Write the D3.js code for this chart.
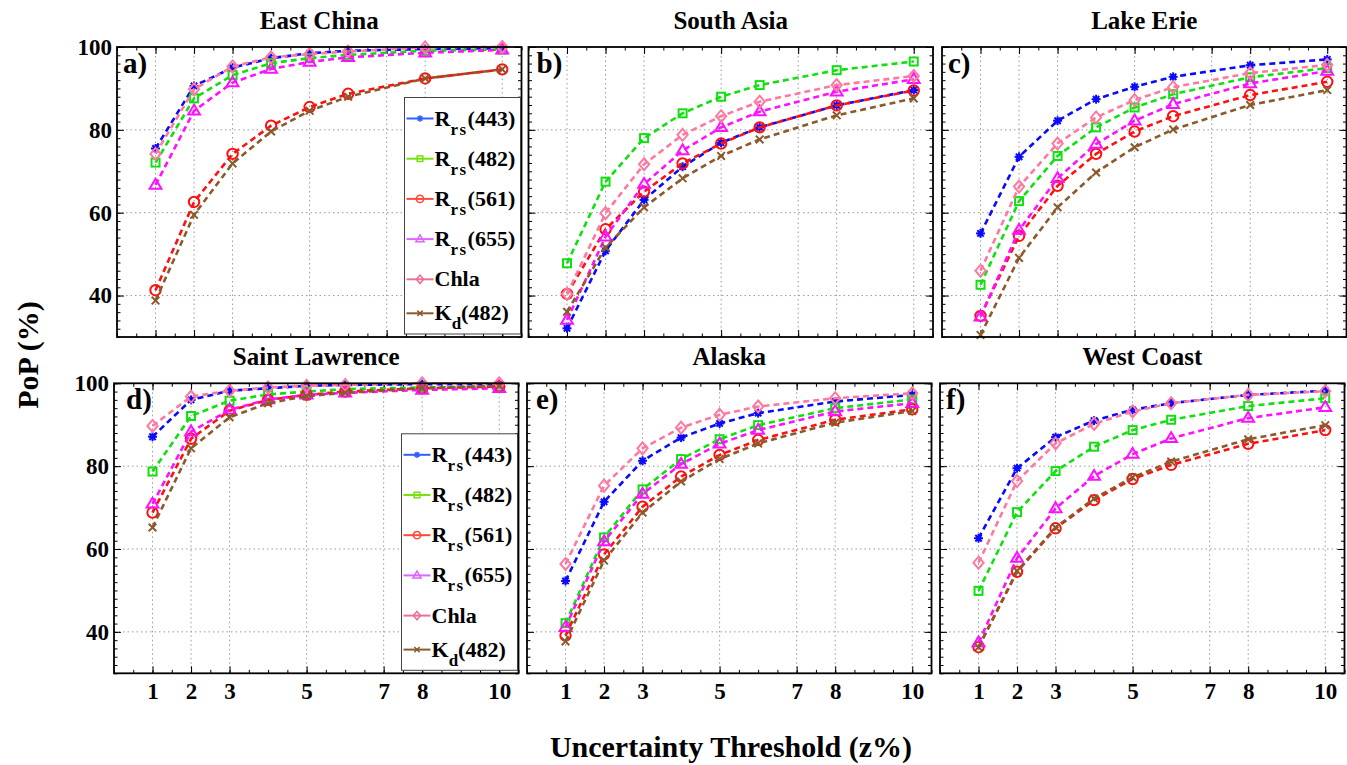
<!DOCTYPE html>
<html>
<head>
<meta charset="utf-8">
<script src="https://cdn.jsdelivr.net/npm/d3@7"></script>
<style>
  html, body { margin: 0; padding: 0; background: #fff; }
  svg { display: block; }
  svg text { font-family: "Liberation Serif", "Times New Roman", Times, "DejaVu Serif", serif !important; font-weight: bold; }
</style>
</head>
<body>
<svg id="chart" width="1347" height="765"></svg>
<script>
// ---------------- DATA ----------------
const thresholds = [1, 2, 3, 4, 5, 6, 8, 10];
const xTickValues = [1, 2, 3, 5, 7, 8, 10];
const yTickValues = [40, 60, 80, 100];
const regions = ["East China", "South Asia", "Lake Erie", "Saint Lawrence", "Alaska", "West Coast"];
const panelLabels = ["a)", "b)", "c)", "d)", "e)", "f)"];
const seriesMain = ["R", "R", "R", "R", "Chla", "K"];
const seriesSub = ["rs", "rs", "rs", "rs", "", "d"];
const seriesTail = ["(443)", "(482)", "(561)", "(655)", "", "(482)"];

// rows: Rrs(443), Rrs(482), Rrs(561), Rrs(655), Chla, Kd(482)
const eastChina = [
  [75.5, 90.6, 95.0, 97.3, 98.5, 99.1, 99.5, 99.7],
  [72.1, 87.6, 93.2, 96.1, 97.3, 98.1, 99.1, 99.4],
  [41.3, 62.6, 74.2, 81.0, 85.5, 88.7, 92.4, 94.6],
  [66.7, 84.6, 91.4, 94.7, 96.4, 97.5, 98.6, 99.3],
  [74.2, 89.8, 95.3, 97.5, 98.3, 98.9, 99.9, 100.0],
  [38.8, 59.5, 71.9, 79.6, 84.6, 88.0, 92.4, 94.6]
];
const southAsia = [
  [32.1, 50.8, 63.1, 71.1, 76.9, 80.6, 85.9, 89.6],
  [47.8, 67.5, 78.0, 84.0, 88.0, 90.8, 94.4, 96.5],
  [40.4, 56.0, 65.1, 71.9, 76.7, 80.6, 85.9, 89.5],
  [34.1, 54.2, 66.9, 75.0, 80.6, 84.4, 89.2, 92.2],
  [40.4, 59.9, 71.7, 78.8, 83.3, 86.8, 90.8, 93.0],
  [36.1, 51.6, 61.3, 68.3, 73.7, 77.7, 83.5, 87.6]
];
const lakeErie = [
  [55.0, 73.5, 82.2, 87.4, 90.4, 92.8, 95.6, 97.0],
  [42.6, 62.8, 73.7, 80.6, 85.4, 88.6, 92.7, 94.9],
  [35.1, 54.4, 66.5, 74.2, 79.6, 83.3, 88.4, 91.6],
  [34.9, 55.8, 68.3, 76.6, 82.2, 86.2, 91.2, 94.2],
  [46.0, 66.3, 76.7, 83.0, 87.2, 90.3, 93.7, 95.7],
  [30.5, 49.1, 61.3, 69.7, 75.8, 80.1, 86.0, 89.6]
];
const saintLawrence = [
  [87.1, 96.0, 98.2, 98.8, 99.4, 99.6, 99.8, 99.8],
  [78.7, 92.1, 95.8, 97.3, 98.0, 98.6, 99.0, 99.2],
  [68.8, 86.6, 93.4, 96.0, 97.2, 98.0, 98.8, 99.2],
  [70.9, 88.3, 93.6, 96.1, 97.2, 97.7, 98.4, 98.8],
  [89.7, 96.8, 98.2, 99.0, 99.4, 99.6, 100.0, 100.0],
  [65.2, 84.3, 91.8, 95.2, 96.9, 97.7, 98.8, 99.4]
];
const alaska = [
  [52.3, 71.4, 81.3, 86.9, 90.3, 92.8, 95.6, 97.2],
  [42.1, 62.8, 74.4, 81.7, 86.5, 89.9, 94.0, 96.1],
  [39.1, 58.7, 70.2, 77.5, 82.7, 86.3, 91.2, 93.7],
  [41.1, 61.8, 73.3, 80.5, 85.4, 88.7, 93.2, 95.2],
  [56.4, 75.3, 84.3, 89.3, 92.4, 94.4, 96.4, 97.6],
  [37.7, 57.2, 68.8, 76.3, 81.7, 85.5, 90.5, 93.3]
];
const westCoast = [
  [62.6, 79.5, 87.0, 91.0, 93.6, 95.2, 97.2, 98.2],
  [49.9, 68.9, 78.8, 84.7, 88.7, 91.2, 94.5, 96.4],
  [36.3, 54.5, 65.0, 71.8, 76.9, 80.3, 85.4, 88.7],
  [37.4, 57.8, 69.8, 77.6, 82.9, 86.7, 91.6, 94.2],
  [56.7, 76.4, 85.5, 90.2, 93.2, 95.2, 97.2, 98.1],
  [36.3, 54.7, 65.2, 72.2, 77.3, 81.1, 86.5, 89.9]
];
const regionData = [eastChina, southAsia, lakeErie, saintLawrence, alaska, westCoast];

// ---------------- STYLE / LAYOUT ----------------
const lineColors = ["#0a0aff", "#10e010", "#ff1010", "#ff10ff", "#ff78a0", "#8b5a2b"];
const legendColors = ["#2f5fff", "#77e010", "#ff4a3a", "#dd66ff", "#ee6f99", "#8b5a2b"];
const markerTypes = ["star", "square", "circle", "triangle", "diamond", "x"];
const FONT = "'Liberation Serif', 'Times New Roman', Times, 'DejaVu Serif', serif";

const svg = d3.select("#chart").attr("font-family", FONT).attr("font-weight", "bold");
const rowTops = [47, 383.3];
const colLefts = [[117, 528.5, 942], [114, 527, 940]];
const panelW = 404.5, panelH = 290;
const labelOffsets = [6, 8, 6, 12, 9, 6];

function drawMarker(g, type, cx, cy, color, s, sw) {
  const m = g.append("g").attr("transform", `translate(${cx},${cy})`)
    .attr("fill", "none").attr("stroke", color).attr("stroke-width", sw);
  if (type === "star") {
    const r = 4.5 * s;
    [0, 45, 90, 135].forEach(a => {
      const t = a * Math.PI / 180;
      m.append("line").attr("x1", -r * Math.cos(t)).attr("y1", -r * Math.sin(t))
        .attr("x2", r * Math.cos(t)).attr("y2", r * Math.sin(t));
    });
    m.append("circle").attr("r", 2.8 * s).attr("fill", color).attr("stroke", "none");
  } else if (type === "square") {
    const h = 4 * s;
    m.append("rect").attr("x", -h).attr("y", -h).attr("width", 2 * h).attr("height", 2 * h);
  } else if (type === "circle") {
    m.append("circle").attr("r", 5.2 * s);
  } else if (type === "triangle") {
    const r = 6.2 * s;
    m.append("path").attr("d", `M0,${-r}L${r * 0.95},${r * 0.6}L${-r * 0.95},${r * 0.6}Z`);
  } else if (type === "diamond") {
    const r = 6 * s;
    m.append("path").attr("d", `M0,${-r}L${r * 0.85},0L0,${r}L${-r * 0.85},0Z`);
  } else if (type === "x") {
    const r = 3.8 * s;
    m.append("line").attr("x1", -r).attr("y1", -r).attr("x2", r).attr("y2", r);
    m.append("line").attr("x1", -r).attr("y1", r).attr("x2", r).attr("y2", -r);
  }
}

function drawLegend(g, bx, by) {
  const bw = 116, bh = 236.5;
  const lg = g.append("g").attr("transform", `translate(${bx},${by})`);
  lg.append("rect").attr("width", bw).attr("height", bh)
    .attr("fill", "#fff").attr("stroke", "#444").attr("stroke-width", 1);
  let y = 21;
  seriesMain.forEach((name, i) => {
    lg.append("line").attr("x1", 2).attr("x2", 29).attr("y1", y).attr("y2", y)
      .attr("stroke", legendColors[i]).attr("stroke-width", 2);
    drawMarker(lg, markerTypes[i], 15.5, y, legendColors[i], 0.7, 1.5);
    const t = lg.append("text").attr("x", 30).attr("y", y + 7).attr("font-size", 22).attr("fill", "#000");
    t.append("tspan").text(name);
    if (seriesSub[i]) {
      t.append("tspan").attr("dy", 9).attr("font-size", 17).attr("letter-spacing", seriesSub[i].length > 1 ? 1.5 : 0).text(seriesSub[i]);
      t.append("tspan").attr("dy", -9).text(seriesTail[i]);
    }
    y += seriesSub[i] ? 40.2 : 34;
  });
}

regionData.forEach((data, p) => {
  const row = Math.floor(p / 3), col = p % 3;
  const left = colLefts[row][col], top = rowTops[row];
  const g = svg.append("g").attr("transform", `translate(${left},${top})`);
  const x = d3.scaleLinear().domain([0, 10.5]).range([0, panelW]);
  const y = d3.scaleLinear().domain([30, 100]).range([panelH, 0]);

  // grid
  const grid = g.append("g").attr("stroke", "#9a9a9a").attr("stroke-width", 1).attr("stroke-dasharray", "1.5,3");
  xTickValues.forEach(v => grid.append("line").attr("x1", x(v)).attr("x2", x(v)).attr("y1", 0).attr("y2", panelH));
  yTickValues.filter(v => v < 100).forEach(v => grid.append("line").attr("x1", 0).attr("x2", panelW).attr("y1", y(v)).attr("y2", y(v)));

  // axes (ticks inward)
  const minorX = d3.range(0, 10.51, 0.5);
  const minorY = d3.range(30, 100.1, 2);
  const axes = [
    [d3.axisBottom(x), `translate(0,${panelH})`, row === 1],
    [d3.axisTop(x), `translate(0,0)`, false]
  ];
  axes.forEach(([ax, tr, labels]) => {
    g.append("g").attr("transform", tr).call(ax.tickValues(minorX).tickSize(-3.5).tickFormat(""))
      .call(s => s.select(".domain").remove());
    g.append("g").attr("transform", tr)
      .call(ax.tickValues(xTickValues).tickSize(-7).tickPadding(9).tickFormat(labels ? d3.format("d") : ""))
      .call(s => s.select(".domain").remove())
      .call(s => s.attr("font-family", FONT).attr("font-size", 23))
      .call(s => s.selectAll("text").attr("font-size", 23).attr("fill", "#000"));
  });
  const yaxes = [
    [d3.axisLeft(y), `translate(0,0)`, col === 0],
    [d3.axisRight(y), `translate(${panelW},0)`, false]
  ];
  yaxes.forEach(([ax, tr, labels]) => {
    g.append("g").attr("transform", tr).call(ax.tickValues(minorY).tickSize(-3.5).tickFormat(""))
      .call(s => s.select(".domain").remove());
    g.append("g").attr("transform", tr)
      .call(ax.tickValues(yTickValues).tickSize(-7).tickPadding(5).tickFormat(labels ? d3.format("d") : ""))
      .call(s => s.select(".domain").remove())
      .call(s => s.attr("font-family", FONT).attr("font-size", 23))
      .call(s => s.selectAll("text").attr("font-size", 23).attr("fill", "#000"));
  });
  g.selectAll(".tick line").attr("stroke", "#000").attr("stroke-width", 1);

  // series
  const line = d3.line().x((d, i) => x(thresholds[i])).y(d => y(d));
  data.forEach((vals, si) => {
    g.append("path").datum(vals).attr("d", line)
      .attr("fill", "none").attr("stroke", lineColors[si]).attr("stroke-width", 2.6)
      .attr("stroke-dasharray", "6,4");
    vals.forEach((v, i) => drawMarker(g, markerTypes[si], x(thresholds[i]), y(v), lineColors[si], 1, 2));
  });

  // frame
  g.append("rect").attr("width", panelW).attr("height", panelH)
    .attr("fill", "none").attr("stroke", "#000").attr("stroke-width", 1.8);

  // panel label & title
  g.append("text").attr("x", labelOffsets[p]).attr("y", 26).attr("font-size", 29).attr("fill", "#000").text(panelLabels[p]);
  g.append("text").attr("x", panelW / 2).attr("y", -18).attr("text-anchor", "middle")
    .attr("font-size", 25).attr("fill", "#000").text(regions[p]);

  if (col === 0) drawLegend(g, 287.5, 50.5);
});

// axis titles
svg.append("text").attr("transform", "translate(38,355) rotate(-90)").attr("text-anchor", "middle")
  .attr("font-size", 30).attr("fill", "#000").text("PoP (%)");
svg.append("text").attr("x", 731).attr("y", 757).attr("text-anchor", "middle")
  .attr("font-size", 30).attr("fill", "#000").text("Uncertainty Threshold (z%)");
</script>
</body>
</html>
